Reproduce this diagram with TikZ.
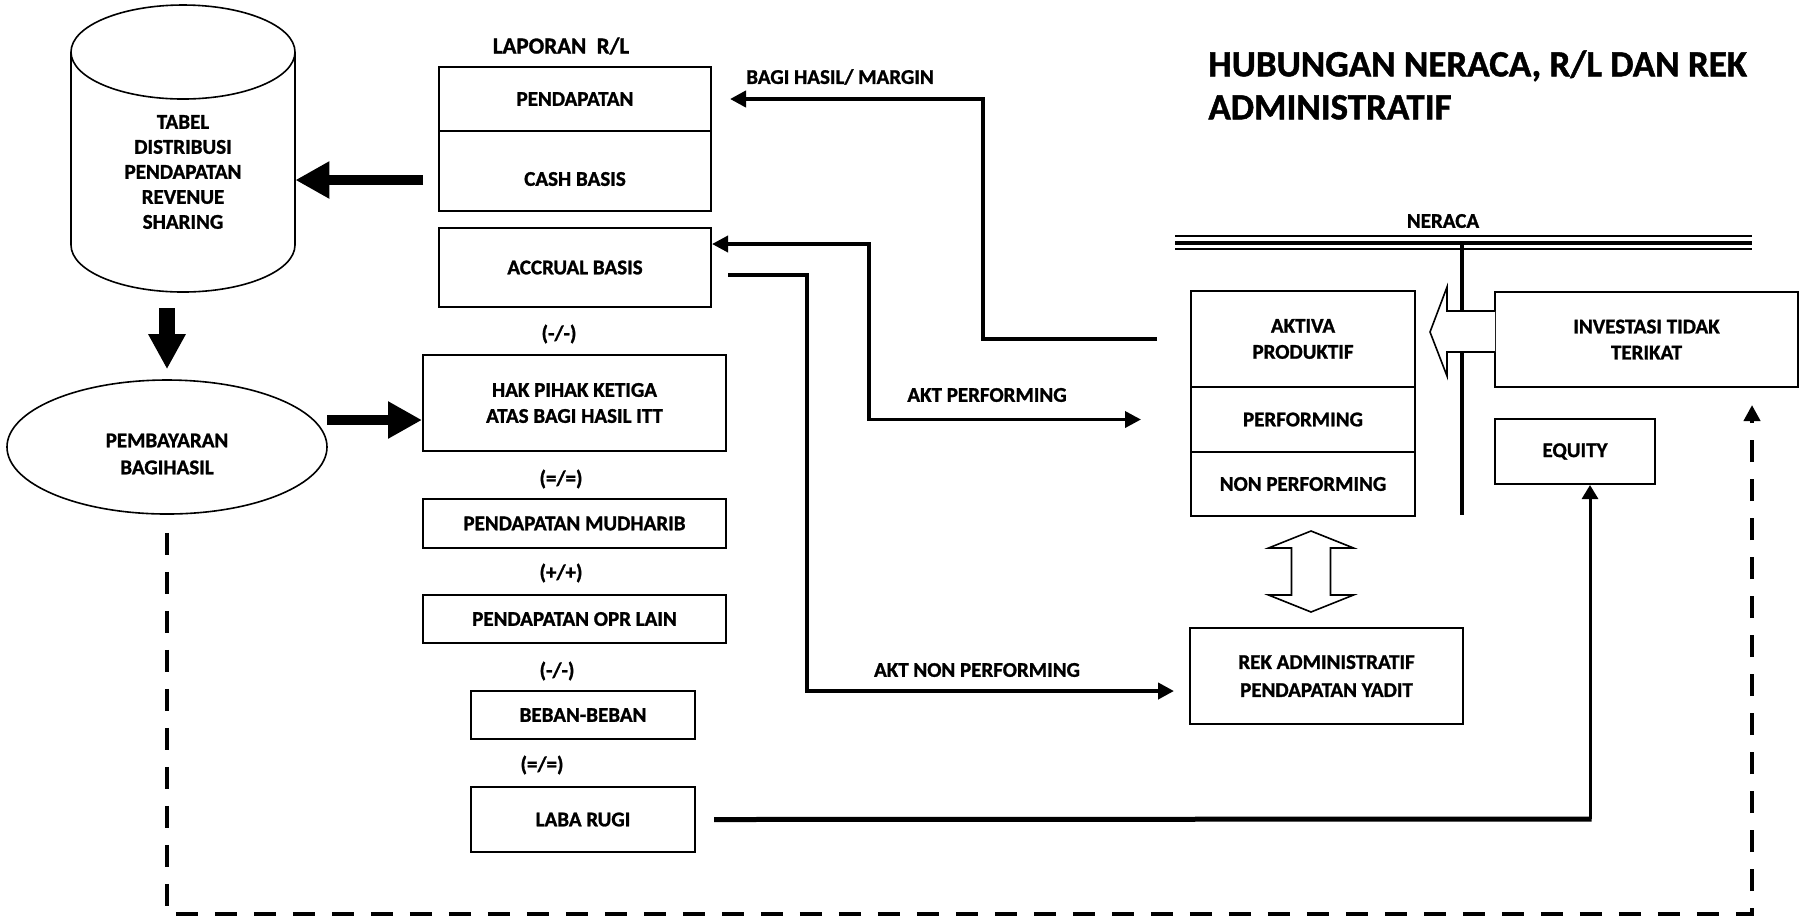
\documentclass[tikz,border=0pt]{standalone}
\usepackage{fontspec}
\setmainfont{Carlito}[BoldFont={Carlito Bold},BoldFeatures={FakeBold=1.2}]
\usetikzlibrary{arrows.meta,shapes.geometric}

\begin{document}
\begin{tikzpicture}[x=0.5pt,y=-0.5pt,
        kotak/.style={draw,line width=1pt,align=center,inner sep=0pt,font=\fontsize{10.5}{13}\selectfont\bfseries},
        teks/.style={align=center,inner sep=0pt,font=\fontsize{10.5}{13}\selectfont\bfseries},
        tanda/.style={teks,font=\fontsize{10.5}{13}\selectfont\bfseries},
        panah/.style={line width=2pt,-{Triangle[length=8pt,width=8pt]}},
        tebal/.style={line width=5pt,-{Triangle[length=17pt,width=17.5pt]}},
        putus/.style={line width=2.1pt,dash pattern=on 11pt off 8.5pt}]
        \useasboundingbox (0,0) rectangle (1802,918);

        \node[teks,anchor=west,align=left,font=\fontsize{18.5}{21.5}\selectfont\bfseries] (judul) at (1208,85) {HUBUNGAN NERACA, R/L DAN REK\\ADMINISTRATIF};

        \draw[line width=0.8pt] (71,52) -- (71,245) arc[start angle=180,end angle=0,x radius=112,y radius=47] -- (295,52);
        \draw[line width=0.8pt] (183,52) ellipse[x radius=112,y radius=47];
        \node[teks,minimum width=112pt,minimum height=60pt,font=\fontsize{10.5}{12.5}\selectfont\bfseries] (tabel) at (183,172) {TABEL\\DISTRIBUSI\\PENDAPATAN\\REVENUE\\SHARING};
        \node[draw,ellipse,line width=0.8pt,minimum width=160pt,minimum height=67pt,
            label={[teks,yshift=-3.5pt,font=\fontsize{10.5}{13.5}\selectfont\bfseries]center:PEMBAYARAN\\BAGIHASIL}] (bayar) at (167,447) {};

        \node[teks,font=\fontsize{11.5}{13}\selectfont\bfseries] (laporan) at (561,46) {LAPORAN\ \ R/L};
        \node[kotak,minimum width=136pt,minimum height=32pt] (pend) at (575,99) {PENDAPATAN};
        \node[kotak,minimum width=136pt,minimum height=40pt,label={[teks,yshift=-4pt]center:CASH BASIS}] (kas) at (575,171) {};
        \node[kotak,minimum width=136pt,minimum height=39.5pt] (akrual) at (575,267.5) {ACCRUAL BASIS};
        \node[tanda] (op1) at (559,334) {(-/-)};
        \node[kotak,minimum width=151.5pt,minimum height=48pt] (hak) at (574.5,403) {HAK PIHAK KETIGA\\ATAS BAGI HASIL ITT};
        \node[tanda] (op2) at (561,479) {(=/=)};
        \node[kotak,minimum width=151.5pt,minimum height=24.5pt] (mudharib) at (574.5,523.5) {PENDAPATAN MUDHARIB};
        \node[tanda] (op3) at (561,573) {(+/+)};
        \node[kotak,minimum width=151.5pt,minimum height=24pt] (oprlain) at (574.5,619) {PENDAPATAN OPR LAIN};
        \node[tanda] (op4) at (557,671) {(-/-)};
        \node[kotak,minimum width=112pt,minimum height=24pt] (beban) at (583,715) {BEBAN-BEBAN};
        \node[tanda] (op5) at (542,765) {(=/=)};
        \node[kotak,minimum width=112pt,minimum height=32.5pt] (laba) at (583,819.5) {LABA RUGI};

        \node[teks] (neraca) at (1443,221) {NERACA};
        \draw[line width=0.8pt] (1175,236) -- (1752,236);
        \draw[line width=2pt] (1175,242.5) -- (1752,242.5);
        \draw[line width=0.8pt] (1175,249) -- (1752,249);
        \draw[line width=2pt] (1462,243) -- (1462,515);

        \node[kotak,minimum width=112pt,minimum height=48pt] (aktiva) at (1303,339) {AKTIVA\\PRODUKTIF};
        \node[kotak,minimum width=112pt,minimum height=32.5pt] (perf) at (1303,419.5) {PERFORMING};
        \node[kotak,minimum width=112pt,minimum height=32pt] (nonperf) at (1303,484) {NON PERFORMING};
        \node[kotak,minimum width=151.5pt,minimum height=47.5pt] (investasi) at (1646.5,339.5) {INVESTASI TIDAK\\TERIKAT};
        \node[kotak,minimum width=80pt,minimum height=32.5pt] (equity) at (1575,451.5) {EQUITY};
        \node[kotak,minimum width=136.5pt,minimum height=48pt,font=\fontsize{10.5}{14}\selectfont\bfseries] (rek) at (1326.5,676) {REK ADMINISTRATIF\\PENDAPATAN YADIT};

        \draw[line width=0.8pt,fill=white] (1495,311) -- (1447,311) -- (1447,287) -- (1430,332) -- (1447,376) -- (1447,352) -- (1495,352);
        \draw[line width=0.8pt,fill=white] (1311,531) -- (1353.5,548) -- (1330.5,548) -- (1330.5,595) -- (1353.5,595) -- (1311,612)
            -- (1268.5,595) -- (1291.5,595) -- (1291.5,548) -- (1268.5,548) -- cycle;

        \coordinate (tabelbawah) at (167,308);
        \coordinate (kasL) at (423,180);
        \coordinate (bayarR) at (327,420);
        \draw[line width=8pt,-{Triangle[length=17.5pt,width=17.5pt]}] (tabelbawah) -- ([yshift=5pt]bayar.north);
        \draw[tebal] (kasL) -- (kasL -| tabel.east);
        \draw[tebal] (bayarR) -- (bayarR -| hak.west);

        \node[teks] (bagihasil) at (840,77) {BAGI HASIL/ MARGIN};
        \draw[panah] ([xshift=-16.5pt]aktiva.west) -| ([xshift=135.5pt]pend.east) -- ([xshift=9pt]pend.east);
        \node[teks] (aktperf) at (987,395) {AKT PERFORMING};
        \draw[line width=1.8pt,{Triangle[length=8pt,width=8pt]}-{Triangle[length=8pt,width=8pt]}] ([yshift=11.75pt]akrual.east) -| ([xshift=-160.5pt]perf.west) -- ([xshift=-24.5pt]perf.west);
        \node[teks] (aktnon) at (977,670) {AKT NON PERFORMING};
        \draw[panah] ([xshift=8pt,yshift=-3.75pt]akrual.east) -| ([xshift=-191pt,yshift=-7.5pt]rek.west) -- ([xshift=-7.5pt,yshift=-7.5pt]rek.west);

        \coordinate (sudut) at (1590,819);
        \draw[line width=2.5pt] ([xshift=9pt]laba.east) -- ([xshift=0.75pt]sudut);
        \draw[line width=1.5pt,-{Triangle[length=7pt,width=8pt]}] (sudut) -- (sudut |- equity.south);

        \draw[putus,-{Triangle[length=8pt,width=8pt]}] ([yshift=-9pt]bayar.south) -- (167,914) -| ([xshift=52.75pt,yshift=-8.5pt]investasi.south);
    \end{tikzpicture}
\end{document}
